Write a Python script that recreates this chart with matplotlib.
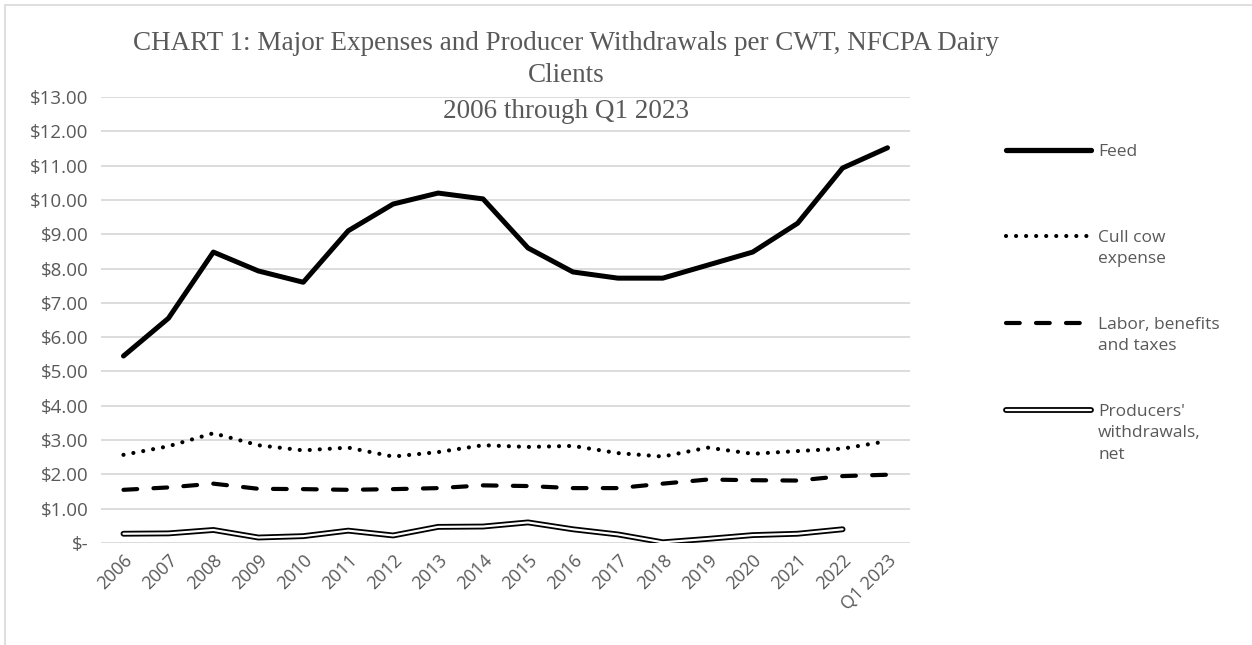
import matplotlib.pyplot as plt
from matplotlib.lines import Line2D
from matplotlib.patches import Rectangle
from matplotlib.ticker import FuncFormatter
import numpy as np

years = ["2006", "2007", "2008", "2009", "2010", "2011", "2012", "2013", "2014",
         "2015", "2016", "2017", "2018", "2019", "2020", "2021", "2022", "Q1 2023"]
feed = [5.45, 6.55, 8.48, 7.93, 7.60, 9.10, 9.88, 10.20, 10.03, 8.60, 7.90, 7.72,
        7.72, 8.10, 8.48, 9.32, 10.93, 11.52]
cull_cow = [2.57, 2.82, 3.20, 2.85, 2.70, 2.78, 2.52, 2.65, 2.85, 2.80, 2.83, 2.62,
            2.52, 2.78, 2.60, 2.68, 2.75, 2.97]
labor = [1.55, 1.62, 1.73, 1.58, 1.57, 1.55, 1.57, 1.60, 1.68, 1.66, 1.60, 1.60,
         1.73, 1.85, 1.83, 1.82, 1.95, 1.99]
withdrawals = [0.27, 0.28, 0.38, 0.16, 0.20, 0.36, 0.22, 0.47, 0.48, 0.60, 0.40, 0.25,
               0.02, 0.12, 0.23, 0.27, 0.40, np.nan]

GRAY = "#595959"
tick_font = "Open Sans"

W, H = 1252, 645
fig = plt.figure(figsize=(W / 100, H / 100), dpi=100)
ax = fig.add_axes([101 / W, 1 - 543 / H, (910 - 101) / W, (543 - 97) / H])

x = np.arange(len(years))
ax.plot(x, feed, color="black", lw=3.6, solid_capstyle="round", solid_joinstyle="round")
ax.plot(x, cull_cow, color="black", lw=3.0, linestyle=(0, (0.01, 2.4)),
        dash_capstyle="round")
ax.plot(x, labor, color="black", lw=3.0, linestyle=(0, (3.3, 3.9)),
        dash_capstyle="round")
ax.plot(x, withdrawals, color="black", lw=4.2, solid_capstyle="round", solid_joinstyle="round")
ax.plot(x, withdrawals, color="white", lw=1.6, solid_capstyle="round", solid_joinstyle="round")

ax.set_xlim(-0.5, len(years) - 0.5)
ax.set_ylim(0, 13)
ax.set_yticks(range(0, 14))
ax.yaxis.set_major_formatter(FuncFormatter(lambda v, p: "$-" if v == 0 else f"${v:.2f}"))
ax.set_xticks(x)
ax.set_xticklabels(years, rotation=45, ha="right", rotation_mode="anchor")
ax.tick_params(axis="y", length=0, labelsize=13.5, labelcolor=GRAY, pad=9)
ax.tick_params(axis="x", length=0, labelsize=13, labelcolor=GRAY, pad=6)
for lab in ax.get_xticklabels() + ax.get_yticklabels():
    lab.set_fontfamily(tick_font)
ax.grid(axis="y", color="#d9d9d9", lw=1.3)
ax.set_axisbelow(True)
for s in ax.spines.values():
    s.set_visible(False)

# title
title_lines = ["CHART 1: Major Expenses and Producer Withdrawals per CWT, NFCPA Dairy",
               "Clients", "2006 through Q1 2023"]
for line, yp in zip(title_lines, [43, 76, 112]):
    fig.text(566 / W, 1 - yp / H, line, ha="center", va="center", fontsize=19.5,
             family="Liberation Serif", color=GRAY)

# legend
legend_items = [
    ("Feed", 150, dict(lw=3.8, solid_capstyle="round")),
    ("Cull cow\nexpense", 236, dict(lw=3.0, linestyle=(0, (0.01, 2.4)), dash_capstyle="round")),
    ("Labor, benefits\nand taxes", 323, dict(lw=3.0, linestyle=(0, (3.3, 3.9)), dash_capstyle="round")),
    ("Producers'\nwithdrawals,\nnet", 410, None),
]
for label, yp, style in legend_items:
    yy = 1 - yp / H
    xs = [1006 / W, 1091 / W]
    if style is None:
        fig.add_artist(Line2D(xs, [yy, yy], color="black", lw=4.2, solid_capstyle="round"))
        fig.add_artist(Line2D(xs, [yy, yy], color="white", lw=1.6, solid_capstyle="round"))
    else:
        fig.add_artist(Line2D(xs, [yy, yy], color="black", **style))
    fig.text(1098 / W, yy + 6 / H, label, ha="left", va="top", fontsize=12.5,
             family=tick_font, color=GRAY, linespacing=1.45)

fig.add_artist(Rectangle((5 / W, -0.1), 1.2, 1 - 5 / H + 0.1, fill=False,
                         edgecolor="#d9d9d9", lw=1.2))

fig.savefig("out.png", dpi=100)
